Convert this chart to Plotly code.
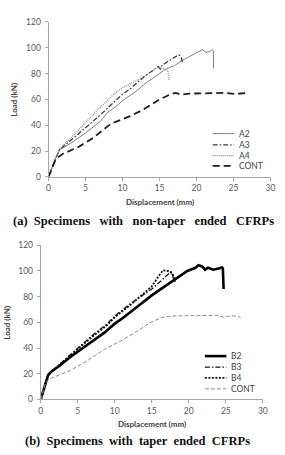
import plotly.graph_objects as go

W, H = 285, 455

# ---------------- data: (a) non-taper ended ----------------
a2_x = [0, 0.5, 1, 1.5, 3, 5, 7, 8, 9, 10, 11, 12, 13, 14, 15, 16, 17, 18, 19, 20, 20.8, 21.3, 21.8, 22.1, 22.3, 22.3]
a2_y = [0, 8, 15, 21, 26, 34, 43, 50, 54, 59, 63, 67, 72, 76, 80, 84, 86, 90, 93, 96, 98.5, 96.5, 97, 98.5, 97.5, 84]

a3_x = [0, 0.5, 1, 1.5, 3, 5, 7, 9, 10, 11, 12, 13, 14, 14.8, 15.1, 15.3, 16, 17, 17.6, 17.9, 18.1]
a3_y = [0, 8, 15, 21, 28, 38, 48, 59, 64, 68, 73, 78, 82, 85.5, 83.5, 86, 89, 92.5, 94.5, 93, 89]

a4_x = [0, 0.5, 1, 1.5, 3, 5, 7, 9, 10, 11, 12, 13, 14, 14.8, 15.5, 16.1, 16.3]
a4_y = [0, 8, 15, 22, 30, 42, 54, 65, 69, 72, 75, 78, 82, 85, 84, 82.5, 75]

conta_x = [0, 0.5, 1, 2, 4, 6, 8.4, 11, 12.8, 15, 16.5, 17.2, 17.9, 19, 22, 24, 25.3, 26.9]
conta_y = [0, 7, 14, 18, 23, 30, 41, 47, 52, 60, 64, 65, 63.6, 64.5, 64.5, 65, 64.2, 65]

# ---------------- data: (b) taper ended ----------------
b2_x = [0, 0.3, 0.6, 1.0, 1.5, 2.5, 4, 5, 6.4, 8.6, 10, 11, 13, 15, 17, 18.5, 19.8, 20.9, 21.3, 21.8, 22.2, 22.6, 23.3, 24, 24.5, 24.6, 24.7]
b2_y = [0, 6, 13, 19, 22, 26, 33, 37, 43, 52, 59, 63, 72, 81, 89, 95, 100, 102.5, 104.5, 103.5, 101, 102.5, 101, 102, 102.8, 102, 86]

b3_x = [0, 0.3, 0.6, 1, 1.5, 2.5, 4, 5, 7, 9, 10, 12, 14, 15, 16, 17, 17.6, 17.9, 18.2, 18.3]
b3_y = [0, 6, 13, 19, 22, 27, 35, 40, 50, 59, 65, 74, 82, 86, 91, 96, 99.5, 95, 92, 90]

b4_x = [0, 0.3, 0.6, 1, 1.5, 2.5, 4, 5, 7, 9, 10, 12, 14, 15, 15.8, 16.5, 17.2, 17.8, 18.2]
b4_y = [0, 6, 13, 19, 22, 27, 34, 39, 49, 58, 64, 73, 83, 88, 95, 100.5, 100, 98, 93]

contb_x = [0, 0.3, 0.66, 1.2, 2, 4, 6.4, 8.6, 10.8, 13, 15, 16.5, 18, 20, 22, 23.8, 24.7, 25.5, 26.6, 27]
contb_y = [0, 6, 13, 16, 18, 22.5, 30.5, 39, 45.5, 53, 60.5, 64, 65, 65, 65, 65.5, 64, 65, 65, 63.5]

names_a = ["A2", "A3", "A4", "CONT"]
names_b = ["B2", "B3", "B4", "CONT"]
x_ticks = [0, 5, 10, 15, 20, 25, 30]
y_ticks = [0, 20, 40, 60, 80, 100, 120]
caption_a = "(a)\u00a0 Specimens\u00a0\u00a0 with\u00a0\u00a0 non-taper\u00a0\u00a0 ended\u00a0\u00a0 CFRPs"
caption_b = "(b)\u00a0 Specimens\u00a0 with\u00a0 taper\u00a0 ended\u00a0 CFRPs"

# ---------------- styles ----------------
styles_a = [
    dict(color="#7f7f7f", width=1.0, dash="solid"),
    dict(color="#3a3a3a", width=1.3, dash="5px,2px,1.5px,2px"),
    dict(color="#8a8a8a", width=1.2, dash="1px,1px"),
    dict(color="#1e1e1e", width=1.8, dash="7px,4px"),
]
styles_b = [
    dict(color="#000000", width=2.6, dash="solid"),
    dict(color="#111111", width=1.3, dash="5px,2px,1.5px,2px"),
    dict(color="#111111", width=1.8, dash="2px,1.5px"),
    dict(color="#8c8c8c", width=1.0, dash="4px,2px"),
]

def px_x(p):
    return p / W

def px_y(p):
    return 1 - p / H

fig = go.Figure()

series_a = [(a2_x, a2_y), (a3_x, a3_y), (a4_x, a4_y), (conta_x, conta_y)]
series_b = [(b2_x, b2_y), (b3_x, b3_y), (b4_x, b4_y), (contb_x, contb_y)]

for (xs, ys), nm, st in zip(series_a, names_a, styles_a):
    fig.add_trace(go.Scatter(x=xs, y=ys, name=nm, mode="lines", line=st,
                             xaxis="x", yaxis="y", showlegend=False))
for (xs, ys), nm, st in zip(series_b, names_b, styles_b):
    fig.add_trace(go.Scatter(x=xs, y=ys, name=nm, mode="lines", line=st,
                             xaxis="x2", yaxis="y2", showlegend=False))

tick_font = dict(family="Lato, Carlito, sans-serif", size=8.5, color="#595959")
axis_common = dict(showgrid=False, zeroline=False, showline=True, linecolor="#a6a6a6",
                   linewidth=1, ticks="outside", ticklen=3, tickcolor="#a6a6a6",
                   tickfont=tick_font)

# plot areas (pixels)
A = dict(l=47.7, r=275.3, t=17.3, b=175.7)
B = dict(l=39.7, r=267.4, t=245.7, b=403.3)

fig.update_layout(
    width=W, height=H, margin=dict(l=0, r=0, t=0, b=0),
    paper_bgcolor="white", plot_bgcolor="white",
    xaxis=dict(domain=[px_x(A["l"]), px_x(A["r"])], range=[0, 30], tickvals=x_ticks,
               anchor="y", **axis_common),
    yaxis=dict(domain=[px_y(A["b"]), px_y(A["t"])], range=[0, 120], tickvals=y_ticks,
               anchor="x", ticklabelstandoff=2, **axis_common),
    xaxis2=dict(domain=[px_x(B["l"]), px_x(B["r"])], range=[0, 30], tickvals=x_ticks,
                anchor="y2", **axis_common),
    yaxis2=dict(domain=[px_y(B["b"]), px_y(B["t"])], range=[0, 120], tickvals=y_ticks,
                anchor="x2", ticklabelstandoff=2, **axis_common),
)

title_font = dict(family="Lato, Carlito, sans-serif", size=8, color="#404040")
annotations = []
shapes = []

def add_panel_text(area, title_y, load_x, cap_y, caption, cap_x):
    cx = (area["l"] + area["r"]) / 2
    cy = (area["t"] + area["b"]) / 2
    annotations.append(dict(text="<b>Displacement (mm)</b>", xref="paper", yref="paper",
                            x=px_x(cx), y=px_y(title_y), showarrow=False,
                            xanchor="center", yanchor="middle", font=title_font))
    annotations.append(dict(text="<b>Load (kN)</b>", xref="paper", yref="paper",
                            x=px_x(load_x), y=px_y(cy), showarrow=False, textangle=-90,
                            xanchor="center", yanchor="middle", font=title_font))
    annotations.append(dict(text="<b>" + caption + "</b>", xref="paper", yref="paper",
                            x=px_x(cap_x), y=px_y(cap_y), showarrow=False,
                            xanchor="center", yanchor="middle",
                            font=dict(family="Liberation Serif, Times New Roman, serif",
                                      size=12.5, color="#111111")))

add_panel_text(A, 201.7, 12.7, 221, caption_a, 145)
add_panel_text(B, 428.5, 5.5, 446, caption_b, 139)

def add_legend(names, styles, x0, x1, ys):
    for nm, st, yy in zip(names, styles, ys):
        shapes.append(dict(type="line", xref="paper", yref="paper",
                           x0=px_x(x0), x1=px_x(x1), y0=px_y(yy), y1=px_y(yy),
                           line=st))
        annotations.append(dict(text=nm, xref="paper", yref="paper",
                                x=px_x(x1 + 2.5), y=px_y(yy), showarrow=False,
                                xanchor="left", yanchor="middle",
                                font=dict(family="Lato, Carlito, sans-serif", size=8.5,
                                          color="#404040")))

add_legend(names_a, styles_a, 216, 238, [131.5, 143, 154, 164.5])
add_legend(names_b, styles_b, 208, 230, [359, 370.2, 381.3, 392.5])

fig.update_layout(annotations=annotations, shapes=shapes)

fig.write_html("out.html")
